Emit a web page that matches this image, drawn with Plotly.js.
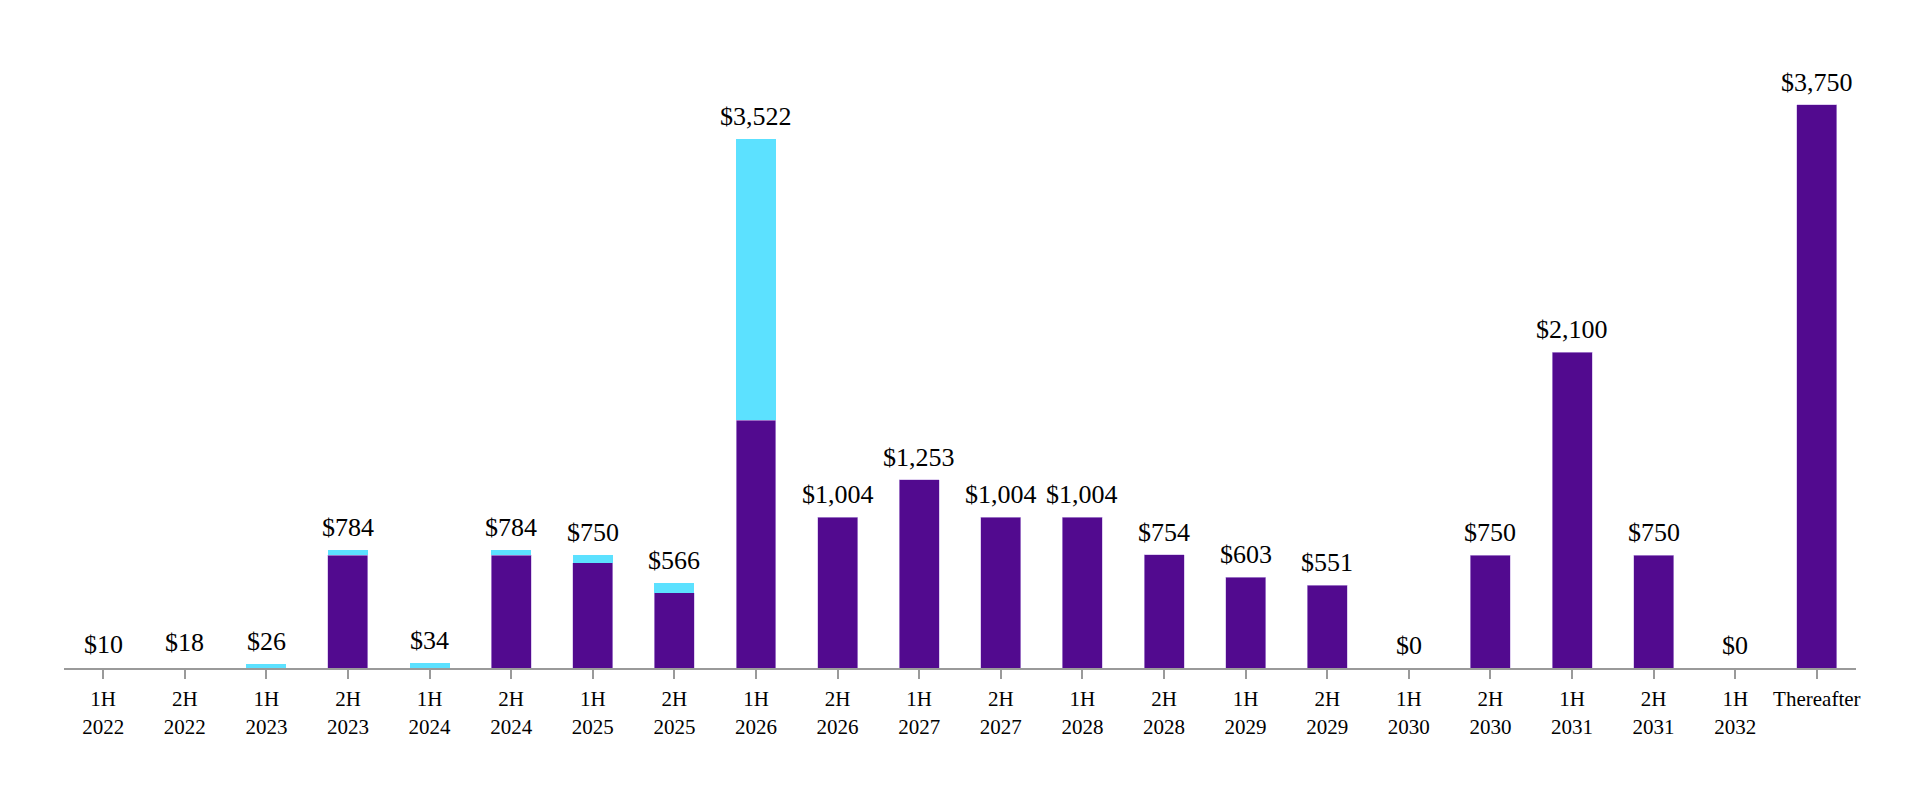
<!DOCTYPE html>
<html>
<head>
<meta charset="utf-8">
<script src="https://cdn.plot.ly/plotly-3.0.1.min.js"></script>
<style>html,body{margin:0;padding:0;background:#fff;}#chart{width:1920px;height:800px;}</style>
</head>
<body>
<div id="chart"></div>
<script>
const categories = ["1H<br>2022","2H<br>2022","1H<br>2023","2H<br>2023","1H<br>2024","2H<br>2024","1H<br>2025","2H<br>2025","1H<br>2026","2H<br>2026","1H<br>2027","2H<br>2027","1H<br>2028","2H<br>2028","1H<br>2029","2H<br>2029","1H<br>2030","2H<br>2030","1H<br>2031","2H<br>2031","1H<br>2032","Thereafter"];
const purpleValues = [0, 0, 0, 750, 0, 750, 700, 500, 1650, 1004, 1253, 1004, 1004, 754, 603, 551, 0, 750, 2100, 750, 0, 3750];
const cyanValues = [0, 0, 26, 34, 34, 34, 50, 66, 1872, 0, 0, 0, 0, 0, 0, 0, 0, 0, 0, 0, 0, 0];
const totals = [10, 18, 26, 784, 34, 784, 750, 566, 3522, 1004, 1253, 1004, 1004, 754, 603, 551, 0, 750, 2100, 750, 0, 3750];
const totalLabels = totals.map(v => "$" + v.toLocaleString("en-US"));

const xs = categories.map((c, i) => i);
const serif = "Liberation Serif, Times New Roman, serif";

const traces = [
  {type: "bar", x: xs, y: purpleValues, marker: {color: "#520A8F", line: {color: "#C9B0E6", width: 0.6}}, hoverinfo: "skip", showlegend: false},
  {type: "bar", x: xs, y: cyanValues, marker: {color: "#5CE1FF", line: {width: 0}}, hoverinfo: "skip", showlegend: false}
];

const annotations = xs.map((x, i) => ({
  x: x, y: totals[i], xref: "x", yref: "y",
  text: totalLabels[i], showarrow: false,
  xanchor: "center", yanchor: "bottom", yshift: 6,
  font: {family: serif, size: 26, color: "#000"}
}));

const layout = {
  width: 1920, height: 800,
  margin: {l: 64, r: 64, t: 67, b: 132},
  barmode: "stack",
  bargap: 0.51,
  paper_bgcolor: "#fff", plot_bgcolor: "#fff",
  showlegend: false,
  annotations: annotations,
  xaxis: {
    range: [-0.48, 21.48],
    tickmode: "array", tickvals: xs, ticktext: categories,
    showline: true, linecolor: "#9a9a9a", linewidth: 2,
    ticks: "outside", ticklen: 9, tickwidth: 2, tickcolor: "#9a9a9a",
    ticklabelstandoff: 2,
    showgrid: false, zeroline: false,
    tickfont: {family: serif, size: 21, color: "#000"}
  },
  yaxis: {
    range: [0, 4000], visible: false, showgrid: false, zeroline: false
  }
};

Plotly.newPlot("chart", traces, layout, {displayModeBar: false, staticPlot: true});
</script>
</body>
</html>
